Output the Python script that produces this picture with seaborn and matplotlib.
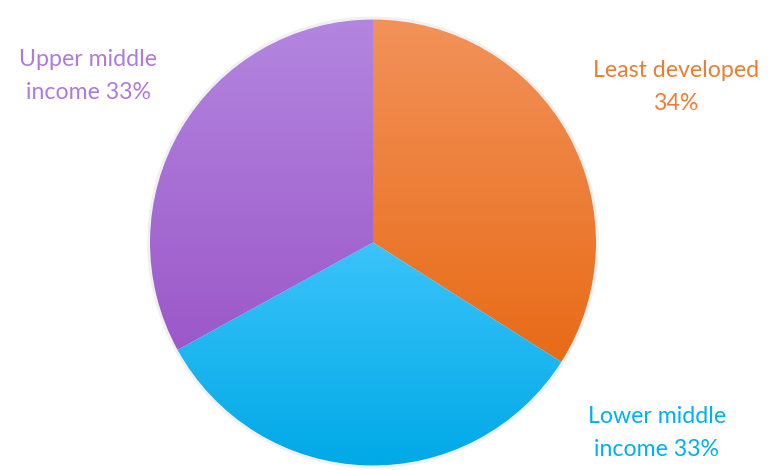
import numpy as np
import seaborn as sns
import matplotlib.pyplot as plt
from matplotlib.colors import LinearSegmentedColormap

categories = ['Least developed', 'Lower middle\nincome', 'Upper middle\nincome']
shares = [34, 33, 33]
label_texts = ['Least developed\n34%', 'Lower middle\nincome 33%', 'Upper middle\nincome 33%']
grad_colors = [('#F2925A', '#E86B17'), ('#3CC3FA', '#00A9E6'), ('#B386E0', '#9C58C9')]
text_colors = ['#ED7D31', '#00B0F0', '#AF7AE0']

sns.set_theme(style='white')
plt.rcParams['font.family'] = ['Lato', 'DejaVu Sans']

fig = plt.figure(figsize=(7.76, 4.70), dpi=100)
ax = fig.add_axes([0, 0, 1, 1])

cx, cy, r = 373, 470 - 242.5, 223
shadow = plt.Circle((cx, cy), r + 1.5, facecolor='none', edgecolor='#e3e3e3', lw=2, alpha=0.5)
ax.add_patch(shadow)

wedges, _ = ax.pie(shares, startangle=90, counterclock=False, center=(cx, cy), radius=r,
                   colors=['none'] * 3, wedgeprops=dict(linewidth=0))

# vertical gradient per slice, clipped to the wedge
for w, (top, bot) in zip(wedges, grad_colors):
    v = w.get_path().vertices
    y0, y1 = v[:, 1].min(), v[:, 1].max()
    cmap = LinearSegmentedColormap.from_list('g', [top, bot])
    grad = np.linspace(0, 1, 256)[:, None]
    im = ax.imshow(grad, extent=(cx - r, cx + r, y0, y1), cmap=cmap, origin='upper',
                   aspect='auto', interpolation='bilinear', zorder=2)
    im.set_clip_path(w)

label_pos = [(676, 470 - 87), (657, 470 - 433), (88, 470 - 76)]
for (x, y), t, c in zip(label_pos, label_texts, text_colors):
    ax.text(x, y, t, ha='center', va='center', color=c, fontsize=16.7, linespacing=1.7, zorder=3)

ax.set_xlim(0, 776)
ax.set_ylim(0, 470)
ax.set_aspect('equal')
ax.axis('off')
fig.savefig('out.png', dpi=100)
